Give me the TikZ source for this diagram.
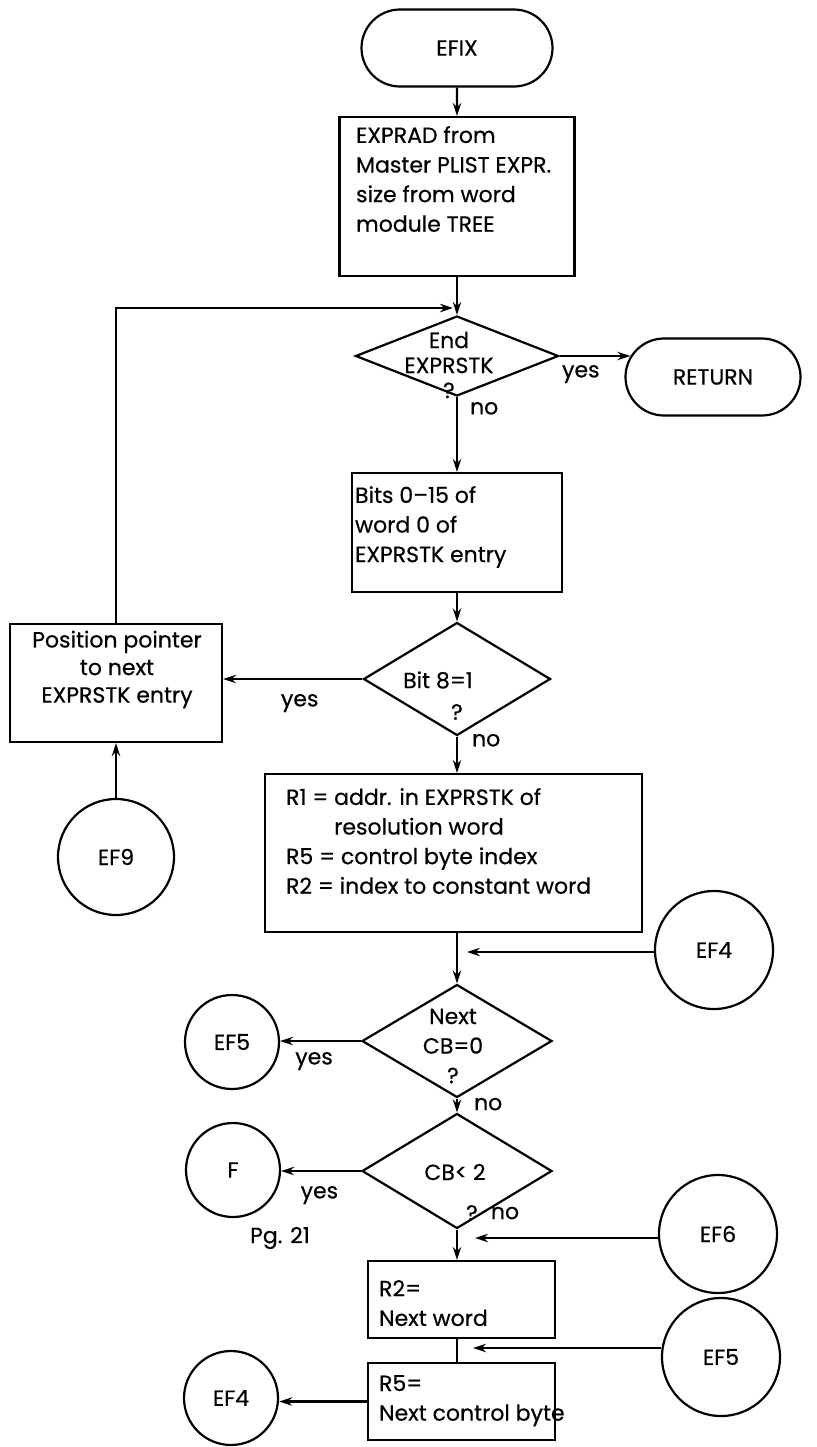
\documentclass[tikz,border=0pt]{standalone}
\usepackage{fontspec}
\setmainfont{Poppins}[FakeBold=0.5]
\usepackage{tikz}
\usetikzlibrary{arrows.meta,positioning,calc,shapes.geometric,shapes.misc}

\begin{document}
\begin{tikzpicture}[x=0.5pt,y=-0.5pt,line width=1.1pt,>={Stealth[length=6.5pt,width=4.2pt]},
  font=\fontsize{11}{14.8}\selectfont,
  term/.style={draw,rounded rectangle,minimum height=38.5pt,inner sep=0pt},
  box/.style={draw,rectangle,inner sep=0pt},
  dec/.style={draw,diamond,inner sep=0pt},
  conn/.style={draw,circle,inner sep=0pt},
  txt/.style={inner sep=0pt,align=left,anchor=north west},
  dtxt/.style={inner sep=0pt,align=center,font=\fontsize{11}{12.5}\selectfont},
  lbl/.style={inner sep=0pt}]
  \useasboundingbox (0,0) rectangle (817,1447);

  \node[term,minimum width=95.5pt] (efix) at (457,48) {EFIX};
  \node[box,minimum width=117.5pt,minimum height=79.5pt] (expr) at (457,196.5) {};
  \node[txt] (exprt) at (355,125) {EXPRAD from\\Master PLIST EXPR.\\size from word\\module TREE};
  \node[dec,minimum width=101.5pt,minimum height=40pt] (d1) at (457,356) {};
  \node[dtxt] (d1t) at (449,365) {End\\EXPRSTK\\?};
  \node[term,minimum width=87.5pt] (ret) at (713,377) {RETURN};
  \node[box,minimum width=105pt,minimum height=59.5pt] (bits) at (457,532.5) {};
  \node[txt] (bitst) at (354,485) {Bits 0--15 of\\word 0 of\\EXPRSTK entry};
  \node[dec,minimum width=93.5pt,minimum height=56.5pt] (d2) at (457,679) {};
  \node[lbl] (d2a) at (438,680) {Bit 8=1};
  \node[lbl] (d2b) at (457,712) {?};
  \node[box,minimum width=106pt,minimum height=59pt] (pos) at (116,683) {};
  \node[dtxt,font=\fontsize{11}{13.8}\selectfont] (post) at (117,669.5) {Position pointer\\to next\\EXPRSTK entry};
  \node[conn,minimum size=58pt] (ef9) at (116,857) {EF9};
  \node[box,minimum width=188.5pt,minimum height=79pt] (rone) at (453.5,853) {};
  \node[txt] (ronet) at (285,787) {R1 = addr. in EXPRSTK of\\\phantom{R1 = }resolution word\\R5 = control byte index\\R2 = index to constant word};
  \node[conn,minimum size=59pt] (ef4r) at (714,950) {EF4};
  \node[dec,minimum width=95pt,minimum height=56.5pt] (d3) at (457,1041) {};
  \node[dtxt,font=\fontsize{11}{14.8}\selectfont] (d3t) at (453,1046) {Next\\CB=0\\?};
  \node[conn,minimum size=47pt] (ef5l) at (232,1042) {EF5};
  \node[dec,minimum width=95pt,minimum height=57.5pt] (d4) at (457,1171) {};
  \node[lbl] (d4a) at (455,1172) {CB< 2};
  \node[lbl] (d4b) at (472,1213) {?};
  \node[conn,minimum size=47pt] (f) at (233,1170) {F};
  \node[lbl] (pg) at (280,1238) {Pg. 21};
  \node[conn,minimum size=59pt] (ef6) at (718,1234) {EF6};
  \node[box,minimum width=93.5pt,minimum height=38.5pt] (rtwo) at (461.5,1299.5) {};
  \node[txt] (rtwot) at (378,1279) {R2=\\Next word};
  \node[conn,minimum size=59pt] (ef5r) at (721,1357) {EF5};
  \node[box,minimum width=93.5pt,minimum height=38.5pt] (rfive) at (461.5,1401.5) {};
  \node[txt] (rfivet) at (378,1374) {R5=\\Next control byte};
  \node[conn,minimum size=47pt] (ef4l) at (231,1398) {EF4};

  \coordinate (j1) at (453,308);
  \coordinate (ef4in) at (467,952);
  \coordinate (ef6in) at (475,1238);
  \coordinate (ef5in) at (473,1348);

  \draw[->] (efix) -- (expr);
  \draw[->] (expr) -- (d1);
  \draw[->] (pos.north) |- (j1);
  \draw[->] (d1.east) -- ($(ret.west |- d1.east)+(6,0)$) node[lbl,pos=0.3,below=4pt] (y1) {yes};
  \draw[->] (d1) -- (bits) node[lbl,pos=0.15,right=6pt] (n1) {no};
  \draw[->] (bits) -- (d2);
  \draw[->] (d2.west) -- (d2.west -| pos.east) node[lbl,pos=0.45,below=7pt] (y2) {yes};
  \draw[->] (ef9) -- (pos);
  \draw[->] (d2.south) -- (d2.south |- rone.north) node[lbl,pos=0.1,right=7pt] (n2) {no};
  \draw[->] (rone.south -| d3.north) -- (d3.north);
  \draw[->] (ef4in -| ef4r.west) -- (ef4in);
  \draw[->] (d3.west) -- (d3.west -| ef5l.east) node[lbl,pos=0.58,below=5pt] (y3) {yes};
  \draw[->] (d3.south) -- (d4.north) node[lbl,pos=0.4,right=8pt] (n3) {no};
  \draw[->] (d4.west) -- (d4.west -| f.east) node[lbl,pos=0.52,below=7pt] (y4) {yes};
  \node[lbl] (n4) at (505,1213) {no};
  \draw[->] (d4.south) -- (d4.south |- rtwo.north);
  \draw[->] (ef6in -| ef6.west) -- (ef6in);
  \draw (rtwo.south -| d4.south) -- (rfive.north -| d4.south);
  \draw[->] (ef5in -| ef5r.west) -- (ef5in);
  \draw[->] (rfive.west) -- (rfive.west -| ef4l.east);
\end{tikzpicture}
\end{document}
